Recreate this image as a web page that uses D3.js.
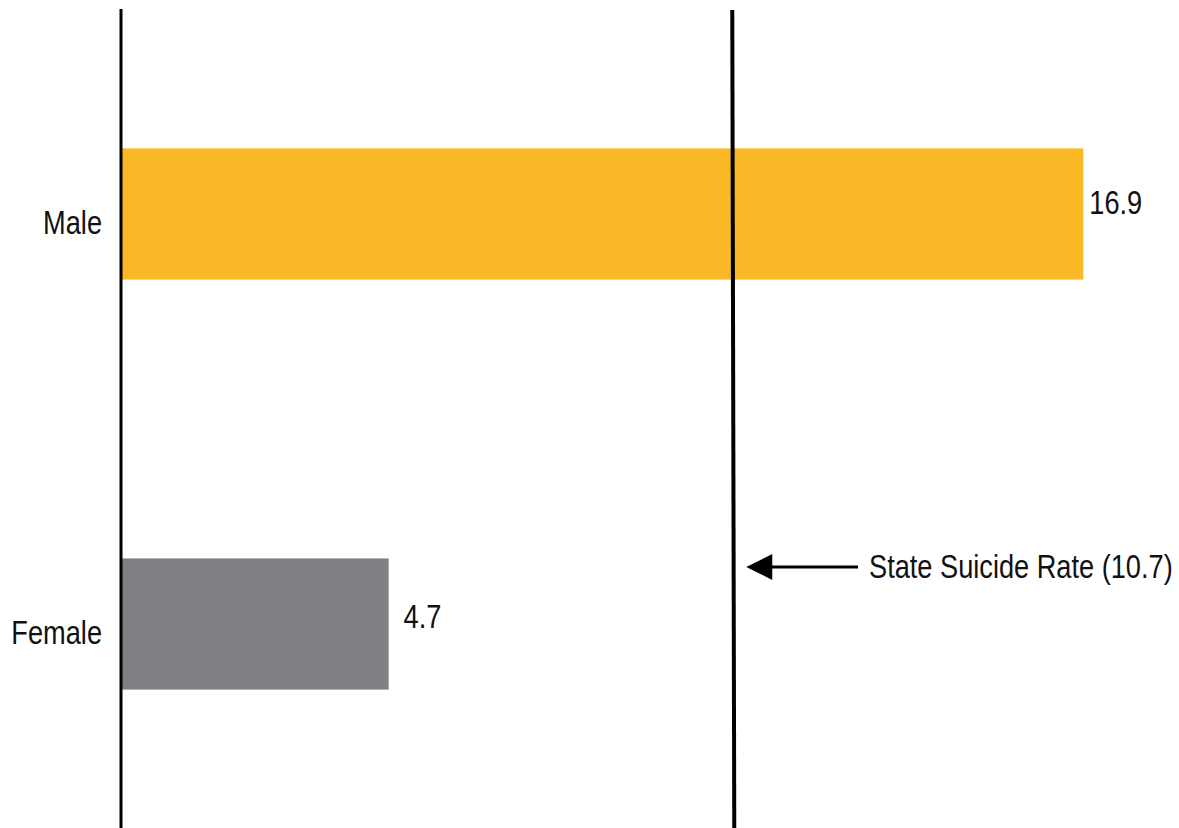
<!DOCTYPE html>
<html>
<head>
<meta charset="utf-8">
<script src="https://cdn.jsdelivr.net/npm/d3@7"></script>
<style>
  html, body { margin: 0; padding: 0; background: #fff; }
  svg { display: block; }
  text { font-family: "Liberation Sans", Arial, sans-serif; fill: #111; }
</style>
</head>
<body>
<svg id="chart" width="1179" height="828"></svg>
<script>
const categories = ["Male", "Female"];
const values = [16.9, 4.7];
const valueLabels = ["16.9", "4.7"];
const barColors = ["#FBB826", "#807F84"];
const stateRate = 10.7;
const stateLabel = "State Suicide Rate (10.7)";

const W = 1179, H = 828;
const FS = 34, SX = 0.8; // condensed look
const svg = d3.select("#chart");

const x = d3.scaleLinear().domain([0, 17]).range([121, 1089]);
const y = d3.scaleBand().domain(categories).range([10, 828])
  .paddingInner(0.68).paddingOuter(0.3375);

function condensed(sel, px, py) {
  return sel.attr("transform", (d, i) => `translate(${px(d, i)},${py(d, i)}) scale(${SX},1)`)
    .attr("x", 0).attr("y", 0).attr("font-size", FS);
}

// bars
svg.selectAll("rect.bar").data(categories).join("rect")
  .attr("class", "bar")
  .attr("x", x(0))
  .attr("y", d => y(d))
  .attr("width", (d, i) => x(values[i]) - x(0))
  .attr("height", y.bandwidth())
  .attr("fill", (d, i) => barColors[i]);

// left axis line
svg.append("line")
  .attr("x1", x(0)).attr("x2", x(0))
  .attr("y1", 9).attr("y2", H)
  .attr("stroke", "#000").attr("stroke-width", 3);

// state rate line
svg.append("line")
  .attr("x1", x(stateRate) + 2).attr("x2", x(stateRate) + 4)
  .attr("y1", 10).attr("y2", H)
  .attr("stroke", "#000").attr("stroke-width", 4);

// category labels
condensed(svg.selectAll("text.cat").data(categories).join("text").attr("class", "cat"),
  () => x(0) - 19, d => y(d) + y.bandwidth() / 2 + 20)
  .attr("text-anchor", "end")
  .text(d => d);

// value labels
condensed(svg.selectAll("text.val").data(categories).join("text").attr("class", "val"),
  (d, i) => x(values[i]) + (i === 0 ? 6 : 15),
  (d, i) => y(d) + y.bandwidth() / 2 + (i === 0 ? 0 : 4))
  .text((d, i) => valueLabels[i]);

// annotation arrow
const ay = 567;
const tipX = x(stateRate) + 16;
svg.append("line")
  .attr("x1", tipX + 20).attr("x2", 858)
  .attr("y1", ay).attr("y2", ay)
  .attr("stroke", "#000").attr("stroke-width", 3);
svg.append("path")
  .attr("d", `M${tipX},${ay} L${tipX + 26},${ay - 13} L${tipX + 26},${ay + 13} Z`)
  .attr("fill", "#000");
condensed(svg.append("text"), () => 869, () => 578)
  .text(stateLabel);
</script>
</body>
</html>
